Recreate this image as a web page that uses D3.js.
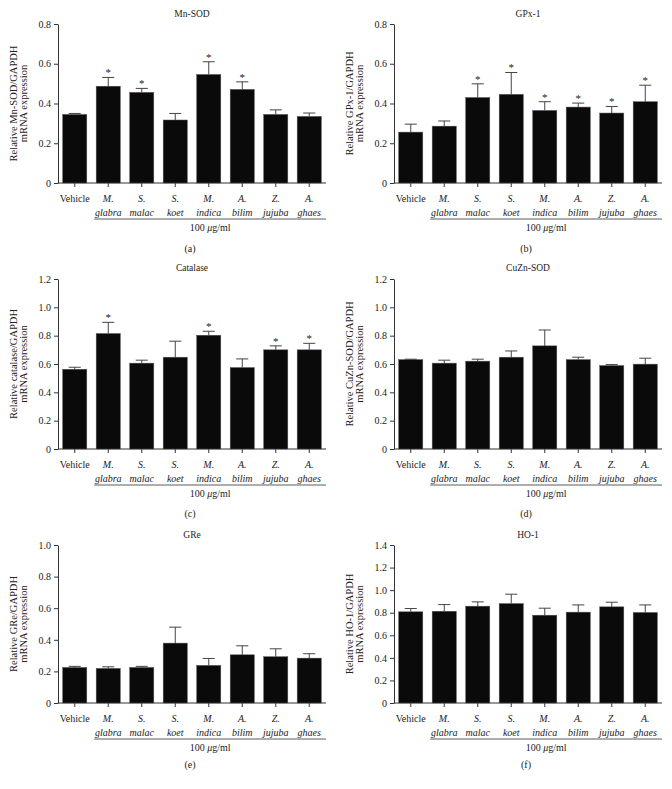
<!DOCTYPE html>
<html>
<head>
<meta charset="utf-8">
<script src="https://cdn.jsdelivr.net/npm/d3@7"></script>
<style>
	body { margin: 0; background: #fff; }
	svg text { font-family: "Liberation Serif", "DejaVu Serif", serif; fill: #222; }
</style>
</head>
<body>
<div id="chart"></div>
<script>

// Categories (two text lines per bar)
var catLine1 = ["Vehicle", "M.", "S.", "S.", "M.", "A.", "Z.", "A."];
var catLine2 = ["", "glabra", "malac", "koet", "indica", "bilim", "jujuba", "ghaes"];
var doseLabel = "100 ";

// Mn-SOD
var mnSodMean = [0.345, 0.487, 0.456, 0.317, 0.546, 0.471, 0.345, 0.335];
var mnSodErr  = [0.005, 0.044, 0.020, 0.033, 0.064, 0.038, 0.023, 0.017];
var mnSodSig  = [0, 1, 1, 0, 1, 1, 0, 0];

// GPx-1
var gpxMean = [0.256, 0.286, 0.430, 0.446, 0.365, 0.382, 0.352, 0.409];
var gpxErr  = [0.040, 0.026, 0.069, 0.110, 0.044, 0.020, 0.033, 0.083];
var gpxSig  = [0, 0, 1, 1, 1, 1, 1, 1];

// Catalase
var catalaseMean = [0.563, 0.815, 0.606, 0.648, 0.803, 0.575, 0.700, 0.700];
var catalaseErr  = [0.014, 0.079, 0.021, 0.113, 0.028, 0.061, 0.028, 0.046];
var catalaseSig  = [0, 1, 0, 0, 1, 0, 1, 1];

// CuZn-SOD
var cuznMean = [0.631, 0.606, 0.620, 0.648, 0.728, 0.631, 0.589, 0.599];
var cuznErr  = [0.003, 0.021, 0.014, 0.044, 0.112, 0.017, 0.007, 0.042];
var cuznSig  = [0, 0, 0, 0, 0, 0, 0, 0];

// GRe
var greMean = [0.225, 0.219, 0.225, 0.379, 0.238, 0.305, 0.293, 0.284];
var greErr  = [0.007, 0.010, 0.007, 0.101, 0.044, 0.057, 0.050, 0.028];
var greSig  = [0, 0, 0, 0, 0, 0, 0, 0];

// HO-1
var hoMean = [0.808, 0.813, 0.858, 0.881, 0.778, 0.805, 0.852, 0.802];
var hoErr  = [0.029, 0.059, 0.038, 0.083, 0.062, 0.064, 0.041, 0.067];
var hoSig  = [0, 0, 0, 0, 0, 0, 0, 0];

// y axis tops
var yMaxes = [0.8, 0.8, 1.2, 1.2, 1.0, 1.4];

// layout of the rows (pixels)
var rowLayout = [
	{ top: 24,  bottom: 183, titleY: 16.5, subY: 251.5 },
	{ top: 279, bottom: 449, titleY: 271,  subY: 516.5 },
	{ top: 545, bottom: 703, titleY: 538,  subY: 767.5 }
];

var svg = d3.select("#chart").append("svg")
	.attr("width", 672)
	.attr("height", 789);

function BarPanel(parent, opts){
	var vis = this;
	vis.parent = parent;
	vis.opts = opts;
	vis.init();
};

BarPanel.prototype.init = function() {
	var vis = this;
	var o = vis.opts;
	var row = rowLayout[o.row];

	vis.g = vis.parent.append("g")
		.attr("transform", "translate(" + (o.col * 336) + ",0)");

	vis.x = d3.scaleBand()
		.domain(d3.range(catLine1.length))
		.range([58, 326])
		.paddingInner(0.28)
		.paddingOuter(0.14);

	vis.y = d3.scaleLinear()
		.domain([0, o.yMax])
		.range([row.bottom, row.top]);

	// one record per bar, keeps its index through filters
	vis.displayData = o.mean.map(function(m, i){
		return { i: i, mean: m, top: m + o.err[i], sig: o.sig[i] };
	});

	vis.row = row;
	vis.updateVis();
};

BarPanel.prototype.updateVis = function() {
	var vis = this;
	var o = vis.opts;
	var row = vis.row;
	var x = vis.x, y = vis.y;
	var cx = (58 + 326) / 2;
	var mid = function(d){ return x(d.i) + x.bandwidth() / 2; };

	// title
	vis.g.append("text")
		.attr("x", cx)
		.attr("y", row.titleY)
		.attr("text-anchor", "middle")
		.style("font-size", "9.5px")
		.text(o.title);

	// y axis
	var ticks = d3.range(0, o.yMax + 0.0001, 0.2);
	var yAxis = d3.axisLeft(y)
		.tickValues(ticks)
		.tickSize(4)
		.tickSizeOuter(0)
		.tickPadding(3)
		.tickFormat(function(d){ return d < 0.001 ? "0" : d3.format(".1f")(d); });

	var ya = vis.g.append("g")
		.attr("transform", "translate(58,0)")
		.call(yAxis);
	ya.selectAll("text").style("font-size", "10px");
	ya.selectAll("line, path").attr("stroke", "#333");

	// x axis
	var xAxis = d3.axisBottom(x)
		.tickSize(4)
		.tickSizeOuter(0)
		.tickFormat("");
	var xa = vis.g.append("g")
		.attr("transform", "translate(0," + row.bottom + ")")
		.call(xAxis);
	xa.select(".domain").attr("d", "M58,0H326").attr("stroke", "#333");
	xa.selectAll(".tick line").attr("stroke", "#333");

	// bars
	vis.g.selectAll(".bar")
		.data(vis.displayData)
		.enter().append("rect")
		.attr("class", "bar")
		.attr("x", function(d){ return x(d.i); })
		.attr("y", function(d){ return y(d.mean); })
		.attr("width", x.bandwidth())
		.attr("height", function(d){ return y(0) - y(d.mean); })
		.attr("fill", "#0a0a0a")
		.attr("stroke", "#555")
		.attr("stroke-width", 0.5);

	// error bars (upper only)
	var capW = x.bandwidth() / 2;
	var eb = vis.g.selectAll(".err")
		.data(vis.displayData)
		.enter().append("g")
		.attr("class", "err");
	eb.append("line")
		.attr("x1", mid)
		.attr("x2", mid)
		.attr("y1", function(d){ return y(d.mean); })
		.attr("y2", function(d){ return y(d.top); })
		.attr("stroke", "#444")
		.attr("stroke-width", 1);
	eb.append("line")
		.attr("x1", function(d){ return mid(d) - capW / 2; })
		.attr("x2", function(d){ return mid(d) + capW / 2; })
		.attr("y1", function(d){ return y(d.top); })
		.attr("y2", function(d){ return y(d.top); })
		.attr("stroke", "#444")
		.attr("stroke-width", 1);

	// significance stars
	vis.g.selectAll(".star")
		.data(vis.displayData.filter(function(d){ return d.sig; }))
		.enter().append("text")
		.attr("class", "star")
		.attr("x", mid)
		.attr("y", function(d){ return y(d.top) - 1; })
		.attr("text-anchor", "middle")
		.style("font-size", "11px")
		.text("*");

	// category labels
	var labels = vis.g.selectAll(".cat")
		.data(vis.displayData)
		.enter().append("text")
		.attr("class", "cat")
		.attr("text-anchor", "middle")
		.style("font-size", "10px");
	labels.append("tspan")
		.attr("x", mid)
		.attr("y", row.bottom + 18.5)
		.style("font-style", function(d){ return d.i === 0 ? "normal" : "italic"; })
		.text(function(d){ return catLine1[d.i]; });
	labels.append("tspan")
		.attr("x", mid)
		.attr("y", row.bottom + 32.5)
		.style("font-style", "italic")
		.text(function(d){ return catLine2[d.i]; });

	// dose underline + label
	var ux0 = x(1) - 2, ux1 = 326;
	vis.g.append("line")
		.attr("x1", ux0).attr("x2", ux1)
		.attr("y1", row.bottom + 36).attr("y2", row.bottom + 36)
		.attr("stroke", "#333").attr("stroke-width", 0.8);
	var dose = vis.g.append("text")
		.attr("x", (ux0 + ux1) / 2)
		.attr("y", row.bottom + 47.5)
		.attr("text-anchor", "middle")
		.style("font-size", "10px");
	dose.append("tspan").text(doseLabel);
	dose.append("tspan").style("font-style", "italic").text("\u03bc");
	dose.append("tspan").text("g/ml");

	// y axis label
	var ly = (row.top + row.bottom) / 2;
	var yl = vis.g.append("text")
		.attr("transform", "translate(0," + ly + ") rotate(-90)")
		.attr("text-anchor", "middle")
		.style("font-size", "10.5px");
	yl.append("tspan").attr("x", 0).attr("y", 17).text(o.yLabel);
	yl.append("tspan").attr("x", 0).attr("y", 27).text("mRNA expression");

	// panel letter
	vis.g.append("text")
		.attr("x", cx - 2)
		.attr("y", row.subY)
		.attr("text-anchor", "middle")
		.style("font-size", "10px")
		.text(o.letter);
};

var panels = [
	{ title: "Mn-SOD",   yLabel: "Relative Mn-SOD/GAPDH",   mean: mnSodMean,    err: mnSodErr,    sig: mnSodSig,    yMax: yMaxes[0], row: 0, col: 0, letter: "(a)" },
	{ title: "GPx-1",    yLabel: "Relative GPx-1/GAPDH",    mean: gpxMean,      err: gpxErr,      sig: gpxSig,      yMax: yMaxes[1], row: 0, col: 1, letter: "(b)" },
	{ title: "Catalase", yLabel: "Relative catalase/GAPDH", mean: catalaseMean, err: catalaseErr, sig: catalaseSig, yMax: yMaxes[2], row: 1, col: 0, letter: "(c)" },
	{ title: "CuZn-SOD", yLabel: "Relative CuZn-SOD/GAPDH", mean: cuznMean,     err: cuznErr,     sig: cuznSig,     yMax: yMaxes[3], row: 1, col: 1, letter: "(d)" },
	{ title: "GRe",      yLabel: "Relative GRe/GAPDH",      mean: greMean,      err: greErr,      sig: greSig,      yMax: yMaxes[4], row: 2, col: 0, letter: "(e)" },
	{ title: "HO-1",     yLabel: "Relative HO-1/GAPDH",     mean: hoMean,       err: hoErr,       sig: hoSig,       yMax: yMaxes[5], row: 2, col: 1, letter: "(f)" }
];

panels.forEach(function(p){ new BarPanel(svg, p); });

</script>
</body>
</html>
